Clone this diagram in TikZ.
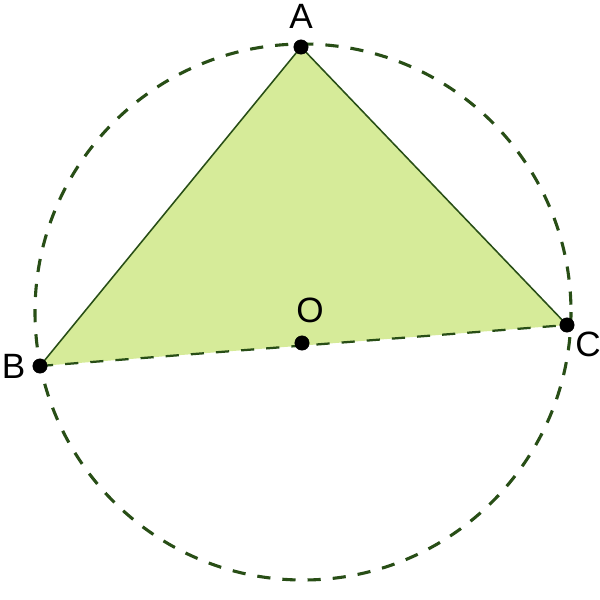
\documentclass[tikz,border=0pt]{standalone}
\usepackage{fontspec}
\setmainfont{Liberation Sans}
\usepackage{tikz}
\usetikzlibrary{positioning,calc}

\definecolor{edgegreen}{RGB}{40,78,22}
\definecolor{fillgreen}{RGB}{214,235,153}

\begin{document}
\begin{tikzpicture}
[   x=0.025cm, y=-0.025cm,
    pnode/.style={draw=black, circle, fill=black, inner sep=0pt, minimum size=0.36cm},
    plabel/.style={font=\fontsize{25}{28}\selectfont, inner sep=0pt},
    circline/.style={draw=edgegreen, line width=2.2pt, dash pattern=on 0.33cm off 0.3cm},
    sideline/.style={draw=edgegreen, line width=1.1pt}, ]

    \useasboundingbox (0,0) rectangle (600,600);

    \coordinate (ctr) at (303,312);

    \coordinate (A) at (301,47);
    \coordinate (B) at (40,366);
    \coordinate (C) at (567,325);
    \coordinate (O) at (302,343);

    \fill[fillgreen] (A) -- (B) -- (C) -- cycle;
    \draw[circline] (ctr) circle (268);

    \draw[sideline] (B) -- (A);
    \draw[sideline] (A) -- (C);
    \draw[circline, line width=1.6pt] (B) -- (C);

    \node[pnode, label={[plabel, label distance=0.27cm]90:A}] (a) at (A) {};
    \node[pnode, label={[plabel, label distance=0.17cm]180:B}] (b) at (B) {};
    \node[pnode, label={[plabel, label distance=0.08cm]-40:C}] (c) at (C) {};
    \node[pnode, label={[plabel, label distance=0.3cm, xshift=0.2cm]90:O}] (o) at (O) {};

\end{tikzpicture}
\end{document}
